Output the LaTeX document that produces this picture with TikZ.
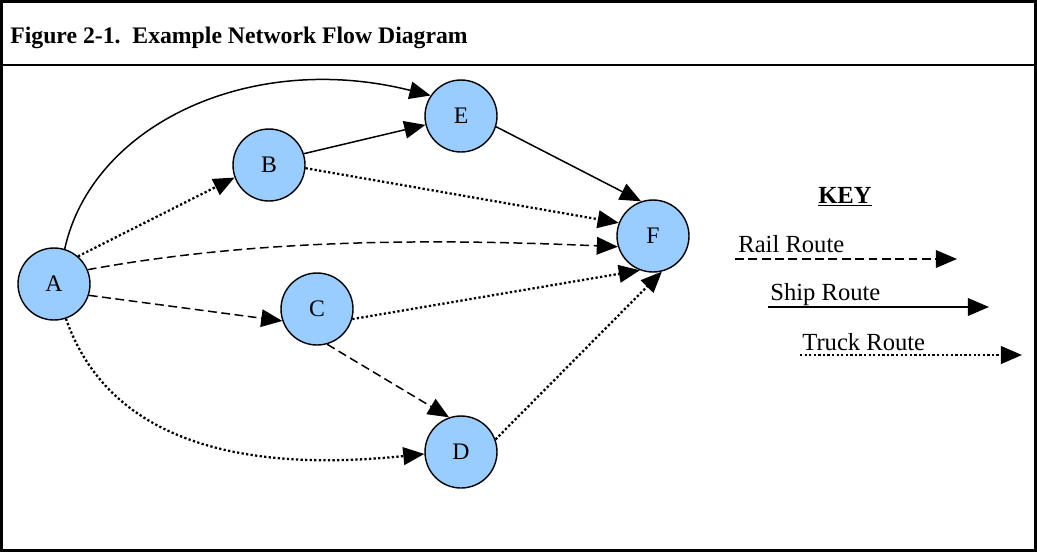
\documentclass[tikz,border=0pt]{standalone}
\usepackage{fontspec}
\setmainfont{Liberation Serif}
\usetikzlibrary{arrows.meta,positioning}
\definecolor{siteblue}{HTML}{99CCFF}
\tikzset{
  >={Triangle[length=12pt,width=10pt]},
  site/.style={circle,draw,line width=0.8pt,fill=siteblue,minimum size=1.44cm,inner sep=0pt,font=\fontsize{13.5}{15}\selectfont},
  ship/.style={->,line width=0.85pt},
  rail/.style={->,line width=0.85pt,dash pattern=on 5pt off 2.6pt},
  truck/.style={->,line width=1.3pt,dash pattern=on 1.3pt off 1.3pt},
  keytext/.style={anchor=base west,inner sep=0pt,font=\fontsize{14}{16}\selectfont},
}
\begin{document}
\begin{tikzpicture}[x=0.02cm,y=-0.02cm]
  \useasboundingbox (0,0) rectangle (1037,552);
  % frame and title bar
  \draw[line width=1.2pt] (1.5,1.5) rectangle (1035.5,550.5);
  \draw[line width=1.2pt] (1.5,65) -- (1035.5,65);
  \node[anchor=base west,inner sep=0pt,font=\bfseries\fontsize{13.5}{16}\selectfont] (title) at (10,43) {Figure 2-1.\ \ Example Network Flow Diagram};

  % sites
  \node[site] (A) at (54,284) {A};
  \node[site] (B) at (269,165) {B};
  \node[site] (E) at (461,116) {E};
  \node[site] (F) at (653,236) {F};
  \node[site] (C) at (317,309) {C};
  \node[site] (D) at (461,452) {D};

  % routes
  \draw[ship] (A.73) .. controls (92,125) and (250,50) .. (E.146);
  \draw[truck] (A.49) -- (B.200);
  \draw[ship] (B.18) -- (E.194);
  \draw[truck] (B.355) -- (F.159);
  \draw[rail] (A.23) .. controls (250,240) and (420,238) .. (F.197);
  \draw[rail] (A.342) -- (C.199);
  \draw[ship] (E.343) -- (F.109);
  \draw[truck] (C.344) -- (F.249);
  \draw[rail] (C.286) -- (D.109);
  \draw[truck] (A.289) .. controls (105,430) and (220,475) .. (D.183);
  \draw[truck] (D.20) -- (F.284);

  % key
  \node[anchor=base,inner sep=0pt,font=\bfseries\fontsize{14}{16}\selectfont] (key) at (845,203) {\underline{KEY}};
  \node[keytext] (railtxt) at (738,252) {Rail Route};
  \coordinate (rail0) at (735,259);
  \coordinate (rail1) at (957,259);
  \draw[rail] (rail0) -- (rail1);
  \node[keytext] (shiptxt) at (770,300) {Ship Route};
  \coordinate (ship0) at (768,307);
  \coordinate (ship1) at (989,307);
  \draw[ship,line width=1pt] (ship0) -- (ship1);
  \node[keytext] (trucktxt) at (802,350) {Truck Route};
  \coordinate (truck0) at (800,355);
  \coordinate (truck1) at (1022,355);
  \draw[truck] (truck0) -- (truck1);
\end{tikzpicture}
\end{document}
